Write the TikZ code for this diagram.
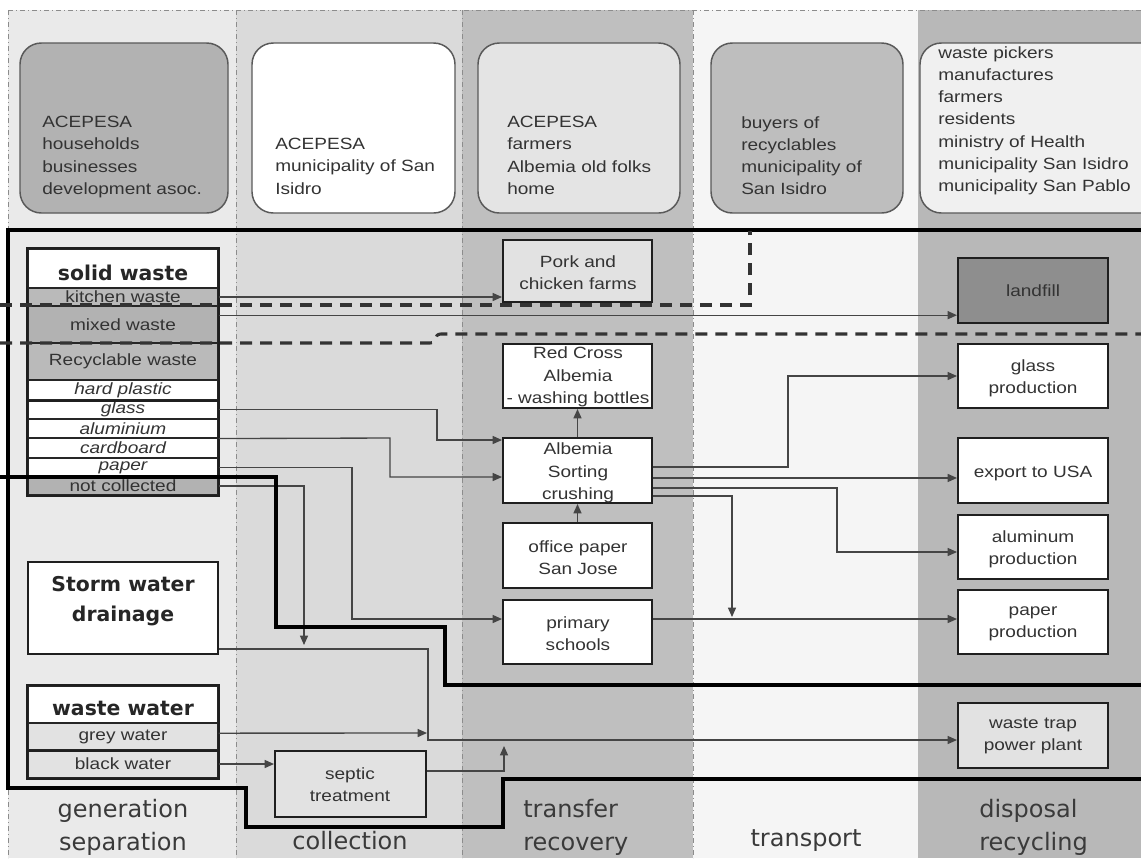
\documentclass[tikz,border=0pt]{standalone}
\usepackage{fontspec}
\setmainfont{Liberation Sans}[FakeStretch=1.17]
\newfontfamily\dvs{DejaVu Sans}
\usetikzlibrary{arrows.meta,fit,calc}
\definecolor{colA}{HTML}{EAEAEA}
\definecolor{colB}{HTML}{DADADA}
\definecolor{colC}{HTML}{BFBFBF}
\definecolor{colD}{HTML}{F5F5F5}
\definecolor{colE}{HTML}{B8B8B8}
\definecolor{txtc}{HTML}{333333}
\definecolor{labc}{HTML}{3A3A3A}
\definecolor{linec}{HTML}{454545}
\definecolor{tbA}{HTML}{B2B2B2}
\definecolor{tbC}{HTML}{E4E4E4}
\definecolor{tbD}{HTML}{BEBEBE}
\definecolor{tbE}{HTML}{F0F0F0}
\definecolor{rowgray}{HTML}{BABABA}
\definecolor{lightbox}{HTML}{E2E2E2}
\definecolor{landc}{HTML}{8E8E8E}
\newcommand\mainf{\fontsize{12.2}{16.7}\selectfont}
\newcommand\boldf{\dvs\bfseries\fontsize{15.3}{22.5}\selectfont}
\newcommand\labf{\dvs\fontsize{18}{24.8}\selectfont}
\begin{document}
\begin{tikzpicture}[x=0.75pt,y=-0.75pt,
  box/.style={draw=black!88, line width=1.5pt, inner sep=0pt},
  rowbox/.style={draw=black!85, line width=0.8pt, inner sep=0pt},
  topbox/.style={draw=black!65, line width=1.1pt, rounded corners=16pt, inner sep=0pt},
  txt/.style={font=\mainf, text=txtc, align=center, inner sep=0pt},
  btxt/.style={font=\boldf, text=black!85, align=center, inner sep=0pt},
  conn/.style={draw=linec, line width=1pt},
  arr/.style={conn, -{Triangle[length=7pt,width=6pt]}},
  frame/.style={draw=black, line width=2.3pt, line join=miter},
  dline/.style={draw=black!80, line width=2.3pt, dash pattern=on 9pt off 6pt},
  divider/.style={draw=black!45, line width=0.6pt, dash pattern=on 4pt off 2pt on 1pt off 2pt},
  lab/.style={font=\labf, text=labc, inner sep=0pt}
]
\useasboundingbox (0,0) rectangle (1141,858);
\clip (0,0) rectangle (1141,858);
\fill[white] (0,0) rectangle (1141,858);
% column bands
\fill[colA] (8,10) rectangle (236,858);
\fill[colB] (236,10) rectangle (462,858);
\fill[colC] (462,10) rectangle (693,858);
\fill[colD] (693,10) rectangle (918,858);
\fill[colE] (918,10) rectangle (1141,858);
\draw[divider] (8,10) -- (8,858);
\draw[divider] (236,10) -- (236,858);
\draw[divider] (462,10) -- (462,858);
\draw[divider] (693,10) -- (693,858);
\draw[divider] (8,10) -- (1141,10);

% actor boxes
\node[topbox, fill=tbA, fit={(20,43) (228,213)}] (g1) {};
\node[txt, align=left, anchor=north west] (g1t) at (42,116) {ACEPESA\\households\\businesses\\development asoc.};
\node[topbox, fill=white, fit={(252,43) (455,213)}] (g2) {};
\node[txt, align=left, anchor=north west] (g2t) at (275,138) {ACEPESA\\municipality of San\\Isidro};
\node[topbox, fill=tbC, fit={(478,43) (680,213)}] (g3) {};
\node[txt, align=left, anchor=north west] (g3t) at (507,116) {ACEPESA\\farmers\\Albemia old folks\\home};
\node[topbox, fill=tbD, fit={(711,43) (903,213)}] (g4) {};
\node[txt, align=left, anchor=north west] (g4t) at (741,116) {buyers of\\recyclables\\municipality of\\San Isidro};
\node[topbox, fill=tbE, fit={(920,43) (1170,213)}] (g5) {};
\node[txt, align=left, anchor=north west] (g5t) at (938,46) {waste pickers\\manufactures\\farmers\\residents\\ministry of Health\\municipality San Isidro\\municipality San Pablo};

% solid waste stack
\node[rowbox, fill=white, fit={(28,249) (218,288)}] (sw) {};
\node[btxt] (swt) at (123,273) {solid waste};
\node[rowbox, fill=rowgray, fit={(28,288) (218,306)}] (kit) {};
\node[txt] (kitt) at (kit.center) {kitchen waste};
\node[rowbox, fill=tbA, fit={(28,306) (218,343)}] (mix) {};
\node[txt] (mixt) at (mix.center) {mixed waste};
\node[rowbox, fill=rowgray, fit={(28,343) (218,380)}] (rec) {};
\node[txt] (rect) at (rec.center) {Recyclable waste};
\node[rowbox, fill=white, fit={(28,380) (218,400)}] (hp) {};
\node[txt, font=\mainf\itshape] (hpt) at (hp.center) {hard plastic};
\node[rowbox, fill=white, fit={(28,400) (218,419)}] (gl) {};
\node[txt, font=\mainf\itshape] (glt) at (gl.center) {glass};
\node[rowbox, fill=white, fit={(28,419) (218,438)}] (alu) {};
\node[txt, font=\mainf\itshape] (alut) at (alu.center) {aluminium};
\node[rowbox, fill=white, fit={(28,438) (218,458)}] (card) {};
\node[txt, font=\mainf\itshape] (cardt) at (card.center) {cardboard};
\node[rowbox, fill=white, fit={(28,458) (218,477)}] (pap) {};
\node[txt, font=\mainf\itshape] (papt) at (pap.center) {paper};
\node[rowbox, fill=tbA, fit={(28,477) (218,495)}] (nc) {};
\node[txt] (nct) at (nc.center) {not collected};
\draw[box] (sw.north west) rectangle (nc.south east);
\draw[draw=black!88, line width=1.5pt] (hp.south west) -- (hp.south east);

% storm water
\node[box, fill=white, fit={(28,562) (218,654)}] (storm) {};
\node[btxt] (stormt) at (123,601) {Storm water\\drainage};

% waste water stack
\node[rowbox, fill=white, fit={(28,686) (218,723)}] (ww) {};
\node[btxt] (wwt) at (123,708) {waste water};
\node[rowbox, fill=lightbox, fit={(28,723) (218,750)}] (grey) {};
\node[txt] (greyt) at (grey.center) {grey water};
\node[rowbox, fill=lightbox, fit={(28,750) (218,778)}] (blk) {};
\node[txt] (blkt) at (blk.center) {black water};
\draw[box] (ww.north west) rectangle (blk.south east);
\draw[draw=black!88, line width=1.5pt] (grey.south west) -- (grey.south east);

% septic
\node[box, fill=lightbox, fit={(275,751) (426,817)}] (septic) {};
\node[txt] (septict) at (350,785) {septic\\treatment};

% transfer / recovery
\node[box, fill=lightbox, fit={(503,240) (652,302)}] (pork) {};
\node[txt] (porkt) at (578,273) {Pork and\\chicken farms};
\node[box, fill=white, fit={(503,344) (652,408)}] (redx) {};
\node[txt] (redxt) at (578,377) {Red Cross\\Albemia\\- washing bottles};
\node[box, fill=white, fit={(503,438) (652,503)}] (sort) {};
\node[txt] (sortt) at (578,473) {Albemia\\Sorting\\crushing};
\node[box, fill=white, fit={(503,523) (652,588)}] (office) {};
\node[txt] (officet) at (578,558) {office paper\\San Jose};
\node[box, fill=white, fit={(503,600) (652,664)}] (school) {};
\node[txt] (schoolt) at (578,634) {primary\\schools};

% disposal / recycling
\node[box, fill=landc, fit={(958,258) (1108,323)}] (landfill) {};
\node[txt] (landfillt) at (landfill.center) {landfill};
\node[box, fill=white, fit={(958,344) (1108,408)}] (glassp) {};
\node[txt] (glasspt) at (1033,378) {glass\\production};
\node[box, fill=white, fit={(958,438) (1108,503)}] (export) {};
\node[txt] (exportt) at (1033,473) {export to USA};
\node[box, fill=white, fit={(958,515) (1108,579)}] (alup) {};
\node[txt] (alupt) at (1033,549) {aluminum\\production};
\node[box, fill=white, fit={(958,590) (1108,654)}] (paperp) {};
\node[txt] (paperpt) at (1033,624) {paper\\production};
\node[box, fill=lightbox, fit={(958,703) (1108,768)}] (trap) {};
\node[txt] (trapt) at (1033,736) {waste trap\\power plant};

% connectors
\draw[arr] (kit.east) -- (kit.east -| pork.west);
\coordinate (mx) at ([yshift=7pt]mix.east);
\draw[arr] (mx) -- (mx -| landfill.west);
\draw[arr] (gl.east) -- (gl.east -| 437,0) -- (437,440) -- (sort.west |- 0,440);
\draw[arr] (alu.south east) -- (390,438) -- (390,477) -- (sort.west |- 0,477);
\draw[arr] (pap.east) -- (pap.east -| 352,0) -- (352,619) -- (school.west |- 0,619);
\coordinate (ncend) at (304,645);
\draw[arr] (nc.east) -- (nc.east -| ncend) -- (ncend);
\coordinate (st) at ([yshift=4.5pt]storm.south east);
\draw[arr] (st) -- (st -| 428,0) -- (428,740) -- (trap.west |- 0,740);
\coordinate (gw) at ([yshift=2.5pt]grey.east);
\coordinate (gwend) at (427,733);
\draw[arr] (gw) -- (gwend);
\draw[arr] (blk.east) -- (blk.east -| septic.west);
\coordinate (sp) at ([yshift=9.75pt]septic.east);
\coordinate (spend) at (504,746);
\draw[arr] (sp) -- (sp -| spend) -- (spend);
\draw[arr] (sort.north) -- (redx.south);
\draw[arr] (office.north) -- (sort.south);
\coordinate (s1) at ([yshift=2.6pt]sort.east);
\coordinate (s2) at ([yshift=-5.6pt]sort.east);
\coordinate (s3) at ([yshift=-13.1pt]sort.east);
\coordinate (s4) at ([yshift=-19.1pt]sort.east);
\draw[arr] (s1) -- (s1 -| 788,0) -- (788,376) -- (glassp.west);
\draw[arr] (s2) -- (s2 -| export.west);
\draw[arr] (s3) -- (s3 -| 837,0) -- (837,552) -- (alup.west |- 0,552);
\coordinate (s4end) at (732,617);
\draw[arr] (s4) -- (s4 -| s4end) -- (s4end);
\coordinate (ps) at ([yshift=9.75pt]school.east);
\draw[arr] (ps) -- (ps -| paperp.west);

% system boundaries
\draw[frame] (1150,230) -- (8,230) -- (8,788) -- (246,788) -- (246,827) -- (503,827) -- (503,779) -- (1150,779);
\draw[frame] (-5,477) -- (276,477) -- (276,627) -- (445,627) -- (445,685) -- (1150,685);
\draw[dline] (0,305) -- (750,305) -- (750,231);
\draw[dline] (0,343) -- (430,343) .. controls (438,343) and (433,334) .. (441,334) -- (1150,334);

% stage labels
\node[lab, align=center] (l1) at (123,827) {generation\\separation};
\node[lab] (l2) at (350,841) {collection};
\node[lab, align=left, anchor=west] (l3) at (523,827) {transfer\\recovery};
\node[lab] (l4) at (806,841) {transport};
\node[lab, align=left, anchor=west] (l5) at (979,827) {disposal\\recycling};
\end{tikzpicture}
\end{document}
